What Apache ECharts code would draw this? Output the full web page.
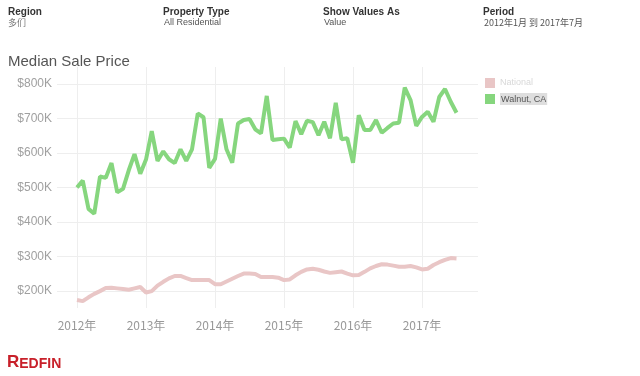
<!DOCTYPE html>
<html>
<head>
<meta charset="utf-8">
<script src="https://cdn.jsdelivr.net/npm/echarts@6/dist/echarts.min.js"></script>
<style>
  html, body { margin: 0; padding: 0; background: #fff; }
  #chart { width: 640px; height: 376px; }
</style>
</head>
<body>
<div id="chart"></div>
<script>
// months Jan 2012 .. Jul 2017
const years = [2012, 2013, 2014, 2015, 2016, 2017];
const months = [];
years.forEach(y => {
  for (let m = 1; m <= 12; m++) {
    if (y === 2017 && m > 7) break;
    months.push(y + '年' + m + '月');
  }
});

const national = [
  173, 170, 181, 191, 199, 208, 209, 207, 205, 203, 207, 211,
  195, 199, 215, 226, 236, 243, 243, 237, 231, 231, 231, 231,
  219, 219, 227, 235, 243, 250, 250, 249, 240, 240, 240, 238,
  231, 233, 245, 255, 262, 264, 261, 256, 252, 254, 256, 250,
  245, 246, 255, 265, 272, 277, 276, 273, 270, 270, 272, 268,
  262, 264, 275, 283, 290, 295, 294
].map(v => v * 1000);

const walnut = [
  500, 520, 438, 424, 532, 528, 571, 486, 496, 550, 597, 540,
  581, 664, 577, 605, 582, 571, 611, 577, 611, 715, 704, 557,
  583, 700, 611, 572, 686, 696, 699, 669, 657, 766, 638, 640,
  642, 616, 693, 655, 694, 690, 652, 691, 643, 746, 640, 643,
  572, 710, 667, 667, 696, 659, 673, 686, 688, 790, 754, 679,
  705, 720, 691, 763, 786, 749, 717
].map(v => v * 1000);

const seriesNames = ['National', 'Walnut, CA'];
const yTicks = [200000, 300000, 400000, 500000, 600000, 700000, 800000];

const font = '"Liberation Sans", Arial, sans-serif';

const chart = echarts.init(document.getElementById('chart'), null, { renderer: 'canvas' });

chart.setOption({
  animation: false,
  backgroundColor: '#fff',
  textStyle: { fontFamily: font },
  graphic: [
    { type: 'text', left: 8, top: 7, style: { text: 'Region', font: 'bold 10px ' + font, fill: '#333' } },
    { type: 'text', left: 8, top: 18, style: { text: '多们', font: '9px "Noto Sans CJK SC"', fill: '#777' } },
    { type: 'text', left: 163, top: 7, style: { text: 'Property Type', font: 'bold 10px ' + font, fill: '#333' } },
    { type: 'text', left: 164, top: 18, style: { text: 'All Residential', font: '9px ' + font, fill: '#555' } },
    { type: 'text', left: 323, top: 7, style: { text: 'Show Values As', font: 'bold 10px ' + font, fill: '#333' } },
    { type: 'text', left: 324, top: 18, style: { text: 'Value', font: '9px ' + font, fill: '#555' } },
    { type: 'text', left: 483, top: 7, style: { text: 'Period', font: 'bold 10px ' + font, fill: '#333' } },
    { type: 'text', left: 484, top: 18, style: { text: '2012年1月 到 2017年7月', font: '9px "Noto Sans CJK SC"', fill: '#555' } },
    { type: 'text', left: 8, top: 54, style: { text: 'Median Sale Price', font: '15px ' + font, fill: '#555' } },
    {
      type: 'text', left: 7, top: 354,
      style: {
        text: '{a|R}{b|EDFIN}',
        rich: {
          a: { font: 'bold 17px ' + font, fill: '#c8202a' },
          b: { font: 'bold 14px ' + font, fill: '#c8202a', verticalAlign: 'bottom' }
        }
      }
    }
  ],
  legend: {
    data: seriesNames,
    orient: 'vertical',
    left: 480,
    top: 73,
    icon: 'rect',
    itemWidth: 10,
    itemHeight: 10,
    itemGap: 5,
    selectedMode: false,
    formatter: name => name === 'National' ? '{n|' + name + '}' : '{w|' + name + '}',
    textStyle: {
      fontSize: 9,
      rich: {
        n: { color: '#d8d8d8', fontSize: 9, fontFamily: font },
        w: { color: '#555', fontSize: 9, fontFamily: font, backgroundColor: '#dedede', padding: [2, 1, 1, 1] }
      }
    }
  },
  grid: [
    { left: 57, right: 162, top: 84, bottom: 85 },
    { left: 77, right: 183.5, top: 67, bottom: 68 }
  ],
  xAxis: [
    { type: 'value', gridIndex: 0, min: 0, max: 1, show: false },
    {
      type: 'category',
      gridIndex: 1,
      data: months,
      boundaryGap: false,
      axisLine: { show: false },
      axisTick: { show: false },
      axisLabel: {
        interval: 11,
        margin: 11,
        color: '#999',
        fontSize: 12,
        fontFamily: '"Noto Sans CJK SC", ' + font,
        formatter: v => v.split('年')[0] + '年'
      },
      splitLine: { show: true, interval: 11, lineStyle: { color: '#eeeeee', width: 1 } }
    }
  ],
  yAxis: [
    {
      type: 'value',
      gridIndex: 0,
      min: yTicks[0],
      max: yTicks[yTicks.length - 1],
      interval: 100000,
      axisLine: { show: false },
      axisTick: { show: false },
      axisLabel: {
        margin: 5,
        color: '#a0a0a0',
        fontSize: 12,
        formatter: v => '$' + (v / 1000) + 'K'
      },
      splitLine: { lineStyle: { color: '#eeeeee', width: 1 } }
    },
    { type: 'value', gridIndex: 1, min: 150000, max: 850000, show: false }
  ],
  series: [
    {
      name: seriesNames[0],
      type: 'line',
      xAxisIndex: 1,
      yAxisIndex: 1,
      data: national,
      symbol: 'none',
      color: '#e9c6c6',
      lineStyle: { width: 4, color: '#e9c6c6' }
    },
    {
      name: seriesNames[1],
      type: 'line',
      xAxisIndex: 1,
      yAxisIndex: 1,
      data: walnut,
      symbol: 'none',
      color: '#86d67e',
      lineStyle: { width: 4, color: '#86d67e' }
    }
  ]
});
</script>
</body>
</html>
